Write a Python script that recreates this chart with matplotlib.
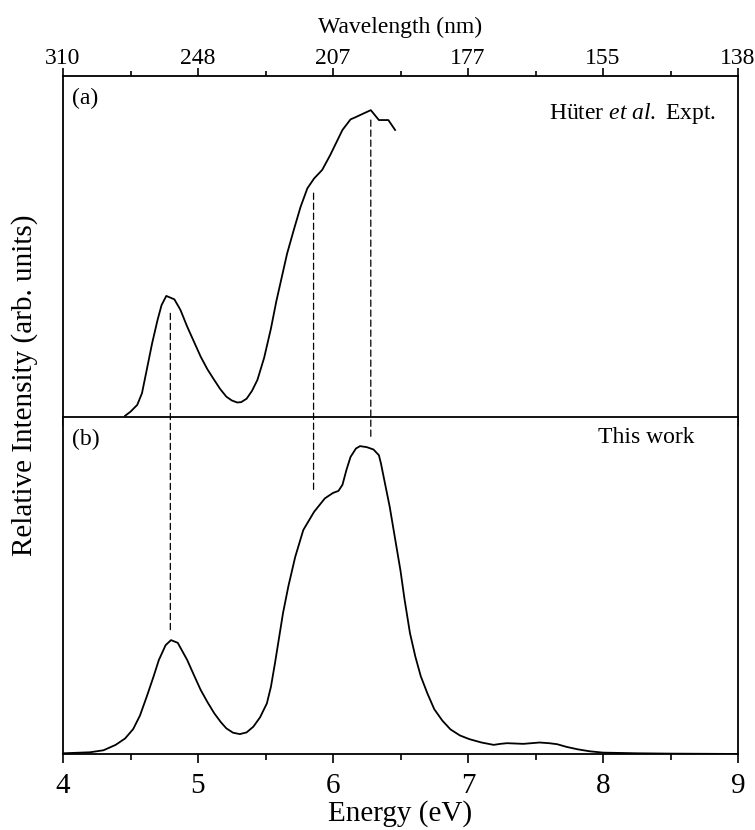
import numpy as np
import matplotlib
matplotlib.use("Agg")
import matplotlib.pyplot as plt
from matplotlib.patches import ConnectionPatch
from matplotlib.ticker import MultipleLocator

plt.rcParams["font.family"] = ["Liberation Serif", "DejaVu Serif"]
plt.rcParams["mathtext.fontset"] = "custom"
plt.rcParams["mathtext.rm"] = "Liberation Serif"
plt.rcParams["mathtext.it"] = "Liberation Serif:italic"

E_expt = [4.46, 4.50, 4.55, 4.585, 4.62, 4.66, 4.70, 4.73, 4.765, 4.825,
          4.87, 4.92, 4.97, 5.02, 5.07, 5.12, 5.165, 5.21, 5.25, 5.29,
          5.32, 5.36, 5.40, 5.44, 5.49, 5.54, 5.58, 5.62, 5.66, 5.71,
          5.76, 5.81, 5.86, 5.92, 5.98, 6.07, 6.13, 6.165, 6.23, 6.28,
          6.34, 6.41, 6.46]
I_expt = [0.005, 0.017, 0.037, 0.071, 0.139, 0.217, 0.285, 0.329, 0.356, 0.346,
          0.315, 0.266, 0.222, 0.178, 0.141, 0.11, 0.083, 0.061, 0.05, 0.044,
          0.045, 0.055, 0.078, 0.11, 0.175, 0.26, 0.34, 0.41, 0.48, 0.55,
          0.617, 0.671, 0.70, 0.725, 0.769, 0.842, 0.873, 0.879, 0.891, 0.90,
          0.871, 0.871, 0.842]

# (b) this work
E_calc = [4.0, 4.2, 4.3, 4.39, 4.46, 4.52, 4.57, 4.62, 4.67, 4.71,
          4.76, 4.80, 4.85, 4.92, 4.97, 5.02, 5.07, 5.12, 5.17, 5.21,
          5.26, 5.31, 5.36, 5.41, 5.46, 5.51, 5.54, 5.57, 5.60, 5.63,
          5.67, 5.72, 5.78, 5.86, 5.94, 6.00, 6.04, 6.07, 6.10, 6.13,
          6.17, 6.20, 6.25, 6.30, 6.34, 6.355, 6.37, 6.42, 6.46, 6.50,
          6.53, 6.57, 6.61, 6.65, 6.70, 6.75, 6.81, 6.87, 6.94, 7.01,
          7.10, 7.19, 7.24, 7.29, 7.35, 7.41, 7.47, 7.53, 7.60, 7.66,
          7.73, 7.81, 7.90, 8.0, 8.25, 8.5, 9.0]
I_calc = [0.003, 0.006, 0.012, 0.028, 0.047, 0.075, 0.115, 0.171, 0.23, 0.28,
          0.324, 0.339, 0.331, 0.28, 0.235, 0.191, 0.155, 0.122, 0.095, 0.077,
          0.064, 0.060, 0.065, 0.082, 0.11, 0.151, 0.20, 0.27, 0.345, 0.42,
          0.50, 0.586, 0.666, 0.72, 0.76, 0.776, 0.782, 0.80, 0.845, 0.883,
          0.908, 0.915, 0.912, 0.905, 0.888, 0.864, 0.834, 0.735, 0.64, 0.545,
          0.46, 0.36, 0.29, 0.232, 0.18, 0.134, 0.10, 0.074, 0.056, 0.045,
          0.035, 0.028, 0.031, 0.033, 0.032, 0.031, 0.033, 0.035, 0.033, 0.03,
          0.022, 0.015, 0.009, 0.005, 0.003, 0.002, 0.001]

# peak guides: energy, top end in (a), bottom end in (b)
peak_E = [4.795, 5.856, 6.28]
guide_top = [0.305, 0.657, 0.871]
guide_bottom = [0.364, 0.784, 0.939]

energy_ticks = [4, 5, 6, 7, 8, 9]
wavelength_labels = ["310", "248", "207", "177", "155", "138"]

fig = plt.figure(figsize=(7.55, 8.3), dpi=100)
ax_a = fig.add_axes([63 / 755, 1 - 417.5 / 830, 675 / 755, 341.5 / 830])
ax_b = fig.add_axes([63 / 755, 1 - 754.3 / 830, 675 / 755, 336.8 / 830])

ax_a.plot(E_expt, I_expt, color="black", lw=1.3)
ax_b.plot(E_calc, I_calc, color="black", lw=1.3)

for ax in (ax_a, ax_b):
    ax.set_xlim(4, 9)
    ax.set_ylim(0, 1)
    ax.set_yticks([])
    ax.set_xticks(energy_ticks)
    ax.xaxis.set_minor_locator(MultipleLocator(0.5))
    for s in ax.spines.values():
        s.set_linewidth(1.3)
    ax.tick_params(axis="x", which="both", direction="out", width=1.2)
    ax.tick_params(axis="x", which="major", length=6.5)
    ax.tick_params(axis="x", which="minor", length=4)

ax_a.set_xticklabels(wavelength_labels)
ax_a.tick_params(axis="x", which="both", top=True, labeltop=True,
                 bottom=True, labelbottom=False)
ax_a.tick_params(axis="x", which="major", length=5.5, labelsize=17, pad=-0.5)
ax_a.tick_params(axis="x", which="minor", length=3.5)
ax_a.xaxis.set_label_position("top")
ax_a.set_xlabel("Wavelength (nm)", fontsize=17, labelpad=11)

ax_b.tick_params(axis="x", which="both", top=False, bottom=True)
ax_b.tick_params(axis="x", which="major", labelsize=21, pad=7)
ax_b.set_xlabel("Energy (eV)", fontsize=21, labelpad=1)

ax_a.text(0.013, 0.935, "(a)", transform=ax_a.transAxes, fontsize=17,
          ha="left", va="center")
ax_a.text(0.967, 0.89, r"Hüter $\it{et\ al.}$ Expt.", transform=ax_a.transAxes,
          fontsize=17, ha="right", va="center")
ax_b.text(0.013, 0.936, "(b)", transform=ax_b.transAxes, fontsize=17,
          ha="left", va="center")
ax_b.text(0.935, 0.94, "This work", transform=ax_b.transAxes, fontsize=17,
          ha="right", va="center")

fig.text(25 / 755, 1 - 385 / 830, "Relative Intensity (arb. units)",
         rotation=90, fontsize=21, ha="center", va="center")

for e, yt, yb in zip(peak_E, guide_top, guide_bottom):
    con = ConnectionPatch(xyA=(e, yt), coordsA=ax_a.transData,
                          xyB=(e, yb), coordsB=ax_b.transData,
                          color="black", lw=0.9, linestyle=(0, (5, 3)))
    fig.add_artist(con)

fig.savefig("out.png", dpi=100)
